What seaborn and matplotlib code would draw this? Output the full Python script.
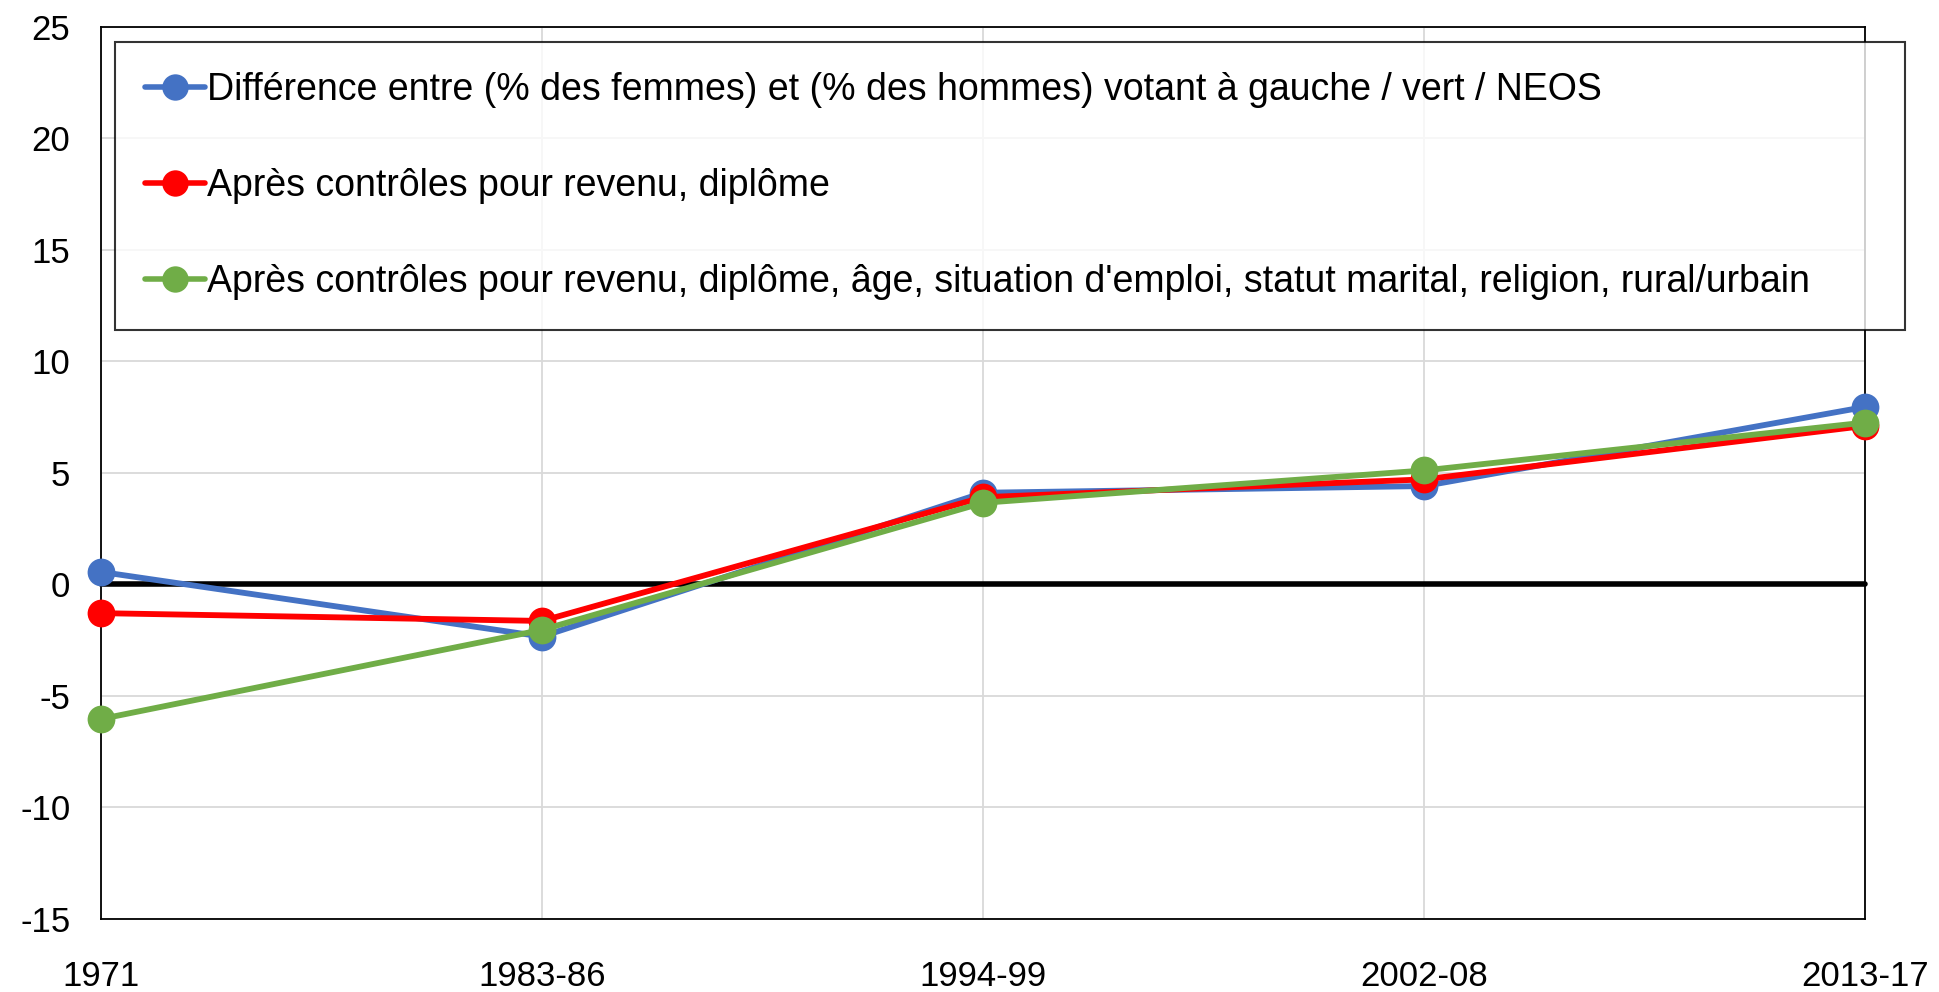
import matplotlib
matplotlib.use("Agg")
import matplotlib.pyplot as plt
import seaborn as sns
import pandas as pd

periods = ["1971", "1983-86", "1994-99", "2002-08", "2013-17"]
diff_raw = [0.55, -2.35, 4.1, 4.4, 7.95]
diff_ctrl1 = [-1.3, -1.65, 3.9, 4.7, 7.1]
diff_ctrl2 = [-6.05, -2.05, 3.65, 5.1, 7.25]
series_names = [
    "Différence entre (% des femmes) et (% des hommes) votant à gauche / vert / NEOS",
    "Après contrôles pour revenu, diplôme",
    "Après contrôles pour revenu, diplôme, âge, situation d'emploi, statut marital, religion, rural/urbain",
]
colors = ["#4472C4", "#FF0000", "#70AD47"]
yticks = [-15, -10, -5, 0, 5, 10, 15, 20, 25]

rows = []
for name, vals in zip(series_names, [diff_raw, diff_ctrl1, diff_ctrl2]):
    for i, (p, v) in enumerate(zip(periods, vals)):
        rows.append({"pos": i, "period": p, "value": v, "series": name})
df = pd.DataFrame(rows)

sns.set_style("white")
plt.rcParams["font.family"] = ["Liberation Sans", "DejaVu Sans"]
plt.rcParams["axes.unicode_minus"] = False
plt.rcParams["text.color"] = "black"

fig = plt.figure(figsize=(19.39, 9.92), dpi=100)
ax = fig.add_axes([0.052, 0.074, 0.91, 0.899])

ax.set_ylim(-15, 25)
ax.set_xlim(0, len(periods) - 1)
ax.set_yticks(yticks)
ax.set_xticks(range(len(periods)))
ax.grid(True, color="#D9D9D9", linewidth=1.3)
ax.set_axisbelow(True)
zero_line = ax.axhline(0, color="black", linewidth=4, zorder=2)

sns.lineplot(data=df, x="pos", y="value", hue="series", palette=colors,
             hue_order=series_names, marker="o", markersize=20, markeredgewidth=0,
             linewidth=4, sort=False, ax=ax, zorder=3, legend=True)
for ln in ax.get_lines():
    ln.set_clip_on(False)
    if ln is not zero_line:
        ln.set_linewidth(4.2)
        ln.set_markersize(20)

ax.set_xticklabels(periods)
ax.set_xlabel("")
ax.set_ylabel("")
ax.tick_params(axis="both", labelsize=25, length=0, colors="black")
ax.tick_params(axis="x", pad=30)
ax.tick_params(axis="y", pad=22)
for s in ax.spines.values():
    s.set_visible(True)
    s.set_color("black")
    s.set_linewidth(1.3)

handles, labels = ax.get_legend_handles_labels()
leg = ax.legend(handles, labels, loc="upper left",
                bbox_to_anchor=(0.008, 0.5, 1.0147, 0.483), mode="expand",
                borderaxespad=0, frameon=True, fancybox=False, edgecolor="black",
                prop={"family": "Liberation Sans", "size": 27}, labelspacing=1.6,
                handlelength=1.6, handletextpad=0.05, borderpad=0.8,
                labelcolor="black")
leg.get_frame().set_linewidth(1.5)
for h in leg.get_lines():
    h.set_linewidth(4)
    h.set_markersize(19)

fig.savefig("out.png", dpi=100)
